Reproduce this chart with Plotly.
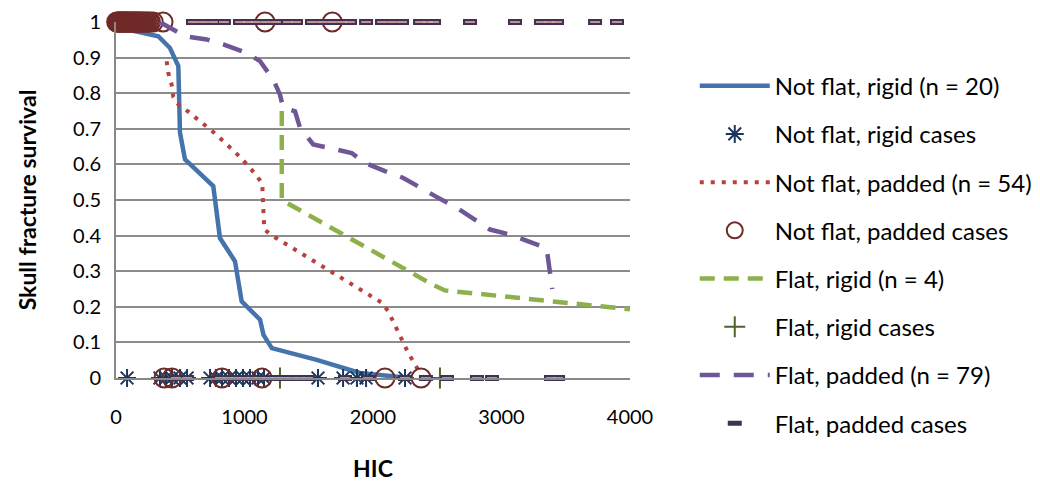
import plotly.graph_objects as go

# ---------------- data ----------------
# Survival curves (HIC, survival)
nf_rigid_hic = [0, 135, 329, 420, 485, 498, 537, 757, 809, 926, 978, 1121, 1147, 1212, 1562, 1899, 2290]
nf_rigid_surv = [1.0, 0.975, 0.96, 0.927, 0.876, 0.689, 0.614, 0.539, 0.393, 0.328, 0.215, 0.164, 0.122, 0.084, 0.051, 0.014, 0.0]

nf_padded_hic = [394, 407, 433, 446, 490, 563, 770, 965, 1082, 1139, 1141, 1154, 1224, 1458, 1691, 1990, 2067, 2119, 2197, 2275, 2366, 2390]
nf_padded_surv = [0.89, 0.857, 0.824, 0.79, 0.766, 0.748, 0.687, 0.621, 0.574, 0.546, 0.515, 0.417, 0.398, 0.347, 0.295, 0.229, 0.212, 0.187, 0.126, 0.07, 0.014, 0.0]

f_rigid_hic = [1290, 1290, 2450, 2560, 4000]
f_rigid_surv = [0.75, 0.5, 0.265, 0.246, 0.193]

f_padded_hic = [340, 537, 706, 835, 1017, 1121, 1224, 1276, 1300, 1393, 1432, 1535, 1834, 1938, 2093, 2236, 2508, 2651, 2911, 3066, 3209, 3351, 3395]
f_padded_surv = [1.0, 0.96, 0.951, 0.937, 0.913, 0.89, 0.838, 0.796, 0.76, 0.749, 0.703, 0.656, 0.632, 0.604, 0.581, 0.562, 0.506, 0.478, 0.417, 0.403, 0.384, 0.365, 0.25]

# Individual cases (HIC, outcome: 1 = no fracture, 0 = fracture)
nf_rigid_case_hic = [86, 342, 389, 436, 498, 553, 732, 778, 825, 879, 934, 988, 1043, 1105, 1152, 1572, 1767, 1875, 1946, 2249]
nf_rigid_case_y = [0] * len(nf_rigid_case_hic)

nf_padded_case_hic = [5, 12, 18, 25, 30, 36, 42, 48, 55, 60, 66, 72, 78, 85, 90, 96, 102, 110, 118, 125,
                      132, 140, 148, 155, 162, 170, 178, 186, 195, 205, 215, 228, 240, 255, 268, 290, 366,
                      1160, 1683,
                      374, 436, 825, 1136, 2093, 2374]
nf_padded_case_y = [1] * 39 + [0] * 6

f_rigid_case_hic = [1276, 2521]
f_rigid_case_y = [0, 0]

f_padded_case_hic = [599, 677, 755, 840, 965, 1027, 1089, 1167, 1245, 1338, 1401, 1525, 1603, 1681, 1759, 1821,
                     1946, 2070, 2148, 2226, 2366, 2428, 2475, 2755, 3105, 3307, 3370, 3432, 3728, 3899,
                     467, 553, 809, 872, 934, 996, 1058, 1121, 1183, 1245, 1307, 1370, 1432, 1494,
                     1782, 1961, 2249, 2412, 2576, 2809, 2926, 3385, 3440]
f_padded_case_y = [1] * 30 + [0] * 23

x_ticks = [0, 1000, 2000, 3000, 4000]
x_tick_labels = ["0", "1000", "2000", "3000", "4000"]
y_ticks = [0, 0.1, 0.2, 0.3, 0.4, 0.5, 0.6, 0.7, 0.8, 0.9, 1.0]
y_tick_labels = ["0", "0.1", "0.2", "0.3", "0.4", "0.5", "0.6", "0.7", "0.8", "0.9", "1"]

FONT = "Lato, 'Open Sans', sans-serif"

fig = go.Figure()

fig.add_trace(go.Scatter(x=nf_rigid_hic, y=nf_rigid_surv, mode="lines",
                         name="Not flat, rigid (n = 20)", legendgroup="a",
                         line=dict(color="#4574AC", width=4.5), cliponaxis=False))
fig.add_trace(go.Scatter(x=nf_rigid_case_hic, y=nf_rigid_case_y, mode="markers",
                         name="Not flat, rigid cases", legendgroup="b",
                         marker=dict(symbol="asterisk-open", size=15, color="#1B365A",
                                     line=dict(color="#1B365A", width=2)), cliponaxis=False))
fig.add_trace(go.Scatter(x=nf_padded_hic, y=nf_padded_surv, mode="lines",
                         name="Not flat, padded (n = 54)", legendgroup="c",
                         line=dict(color="#B8403D", width=4, dash="4px,7px"), cliponaxis=False))
fig.add_trace(go.Scatter(x=nf_padded_case_hic, y=nf_padded_case_y, mode="markers",
                         name="Not flat, padded cases", legendgroup="d",
                         marker=dict(symbol="circle-open", size=19, color="#702A28",
                                     line=dict(color="#702A28", width=2)), cliponaxis=False))
fig.add_trace(go.Scatter(x=f_rigid_hic, y=f_rigid_surv, mode="lines",
                         name="Flat, rigid (n = 4)", legendgroup="e",
                         line=dict(color="#8DB04A", width=4.5, dash="15px,9px"), cliponaxis=False))
fig.add_trace(go.Scatter(x=f_rigid_case_hic, y=f_rigid_case_y, mode="markers",
                         name="Flat, rigid cases", legendgroup="f",
                         marker=dict(symbol="cross-thin-open", size=15, color="#4F6228",
                                     line=dict(color="#4F6228", width=2)), cliponaxis=False))
fig.add_trace(go.Scatter(x=f_padded_hic, y=f_padded_surv, mode="lines",
                         name="Flat, padded (n = 79)", legendgroup="g",
                         line=dict(color="#6F5796", width=4.5, dash="20px,14px"), cliponaxis=False))
fig.add_trace(go.Scatter(x=f_padded_case_hic, y=f_padded_case_y, mode="markers",
                         name="Flat, padded cases", legendgroup="h",
                         marker=dict(symbol="line-ew-open", size=10, color="#3F3151",
                                     line=dict(color="#3F3151", width=6)), cliponaxis=False))
fig.add_trace(go.Scatter(x=f_padded_case_hic, y=f_padded_case_y, mode="markers",
                         showlegend=False, hoverinfo="skip",
                         marker=dict(symbol="line-ew-open", size=7, color="#E6A9A6",
                                     line=dict(color="#E6A9A6", width=1.6)), cliponaxis=False))

fig.update_layout(
    width=1040, height=484,
    margin=dict(l=116, r=410, t=22, b=106, autoexpand=False),
    plot_bgcolor="white", paper_bgcolor="white",
    font=dict(family=FONT, size=20, color="#000000"),
    showlegend=True,
    legend=dict(x=1.126, xanchor="left", y=0.883, yanchor="top",
                font=dict(family=FONT, size=24, color="#000000"),
                itemwidth=70, tracegroupgap=14, maxheight=480,
                bgcolor="rgba(0,0,0,0)"),
    xaxis=dict(range=[0, 4000], tickvals=x_ticks, ticktext=x_tick_labels,
               showgrid=False, zeroline=False, showline=True, linecolor="#888888", linewidth=2,
               ticks="", ticklabelstandoff=20, automargin=False,
               tickfont=dict(family=FONT, size=20),
               title=dict(text="<b>HIC</b>", font=dict(family=FONT, size=23), standoff=34)),
    yaxis=dict(range=[0, 1], tickvals=y_ticks, ticktext=y_tick_labels,
               showgrid=True, gridcolor="#8C8C8C", gridwidth=2,
               zeroline=False, showline=True, linecolor="#888888", linewidth=2,
               ticks="", ticklabelstandoff=9, automargin=False,
               tickfont=dict(family=FONT, size=20),
               title=dict(text="<b>Skull fracture survival</b>", font=dict(family=FONT, size=23), standoff=30)),
)

fig.write_html("out.html", config={"displayModeBar": False},
               post_script="document.body.style.margin='0';document.body.style.overflow='hidden';")
